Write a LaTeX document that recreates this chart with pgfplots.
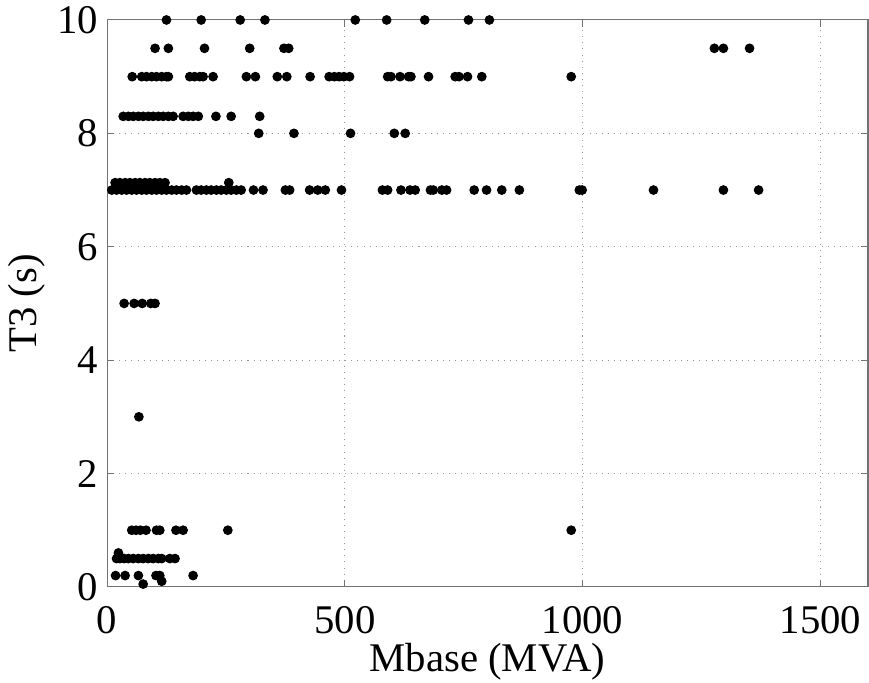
\documentclass[border=0pt]{standalone}
\usepackage{fontspec}
\setmainfont{Liberation Serif}
\usepackage{pgfplots}
\pgfplotsset{compat=1.18}
\usetikzlibrary{calc}

\pgfplotstableread{
x y
125 10
198 10
280 10
332 10
522 10
588 10
668 10
760 10
804 10
101 9.5
129 9.5
205 9.5
300 9.5
372 9.5
382 9.5
1277 9.5
1296 9.5
1351 9.5
53 9
73 9
83 9
94 9
104 9
115 9
125 9
129 9
174 9
184 9
195 9
202 9
223 9
293 9
312 9
358 9
378 9
427 9
467 9
478 9
488 9
498 9
510 9
590 9
597 9
616 9
634 9
639 9
676 9
732 9
740 9
758 9
788 9
976 9
34 8.3
45 8.3
55 8.3
66 8.3
76 8.3
87 8.3
97 8.3
108 8.3
118 8.3
129 8.3
139 8.3
160 8.3
171 8.3
181 8.3
192 8.3
229 8.3
261 8.3
321 8.3
319 8
393 8
512 8
604 8
627 8
17 7.13
27 7.13
38 7.13
48 7.13
59 7.13
69 7.13
80 7.13
90 7.13
101 7.13
111 7.13
122 7.13
256 7.13
10 7
20 7
31 7
41 7
52 7
62 7
73 7
83 7
94 7
104 7
115 7
125 7
136 7
146 7
157 7
167 7
188 7
198 7
209 7
219 7
230 7
240 7
251 7
261 7
272 7
282 7
308 7
328 7
375 7
384 7
426 7
443 7
459 7
493 7
579 7
590 7
618 7
637 7
648 7
680 7
686 7
704 7
714 7
772 7
798 7
830 7
867 7
993 7
999 7
1149 7
1296 7
1370 7
36 5
57 5
74 5
92 5
101 5
67 3
52 1
61 1
70 1
82 1
104 1
111 1
145 1
160 1
254 1
976 1
24 0.6
20 0.5
27 0.5
36 0.5
45 0.5
55 0.5
66 0.5
76 0.5
87 0.5
97 0.5
108 0.5
115 0.5
132 0.5
143 0.5
18 0.2
38 0.2
66 0.2
103 0.2
111 0.2
181 0.2
115 0.1
76 0.05
}\pts

\begin{document}
\begin{tikzpicture}
\begin{axis}[
  scale only axis,
  width=10.51cm, height=7.83cm,
  xmin=0, xmax=1600, ymin=0, ymax=10,
  xtick={0,500,1000,1500}, ytick={0,2,4,6,8,10},
  tick align=inside, major tick length=0.1cm,
  axis line style={black!55},
  every tick/.style={black!55},
  grid=major, major grid style={dotted, black!40},
  xlabel={Mbase (MVA)}, ylabel={T3 (s)},
  tick label style={font=\fontsize{16}{19}\selectfont},
  label style={font=\fontsize{16}{19}\selectfont},
  /pgf/number format/assume math mode=true,
  /pgf/number format/set thousands separator={},
  xticklabel style={yshift=-4pt},
  xlabel style={yshift=3pt},
  ylabel style={yshift=-2pt},
  clip=false,
]
  \addplot[only marks, mark=*, mark size=1.7pt, black] table[x=x, y=y] {\pts};
  \coordinate (SW) at (rel axis cs:0,0);
  \coordinate (NE) at (rel axis cs:1,1);
\end{axis}
\pgfresetboundingbox
\path ($(SW)+(-1.478,-1.326)$) rectangle ($(NE)+(0.014,0.276)$);
\end{tikzpicture}
\end{document}
